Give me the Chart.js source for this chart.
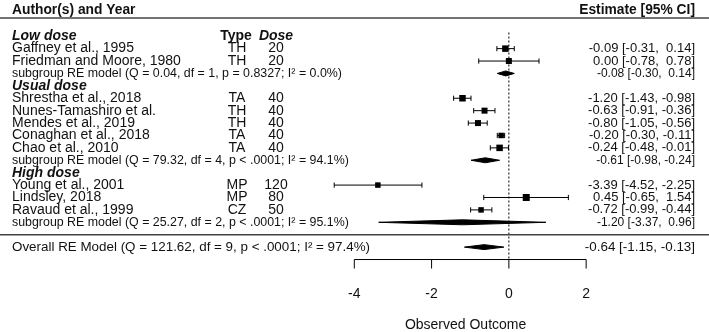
<!DOCTYPE html>
<html>
<head>
<meta charset="utf-8">
<script src="https://cdn.jsdelivr.net/npm/chart.js@4.4.1/dist/chart.umd.min.js"></script>
<style>
  html, body { margin: 0; padding: 0; background: #fff; }
  #wrap { width: 709px; height: 332px; position: relative; }
</style>
</head>
<body>
<div id="wrap"><canvas id="forestChart"></canvas></div>
<script>
// studies, top to bottom
const studies = ['Gaffney et al., 1995', 'Friedman and Moore, 1980', 'Shrestha et al., 2018',
  'Nunes-Tamashiro et al.', 'Mendes et al., 2019', 'Conaghan et al., 2018', 'Chao et al., 2010',
  'Young et al., 2001', 'Lindsley, 2018', 'Ravaud et al., 1999'];
const studyRows = [1, 2, 5, 6, 7, 8, 9, 12, 13, 14];
const types = ['TH', 'TH', 'TA', 'TH', 'TH', 'TA', 'TA', 'MP', 'MP', 'CZ'];
const doses = [20, 20, 40, 40, 40, 40, 40, 120, 80, 50];
const estimate = [-0.09, 0.00, -1.20, -0.63, -0.80, -0.20, -0.24, -3.39, 0.45, -0.72];
const lower = [-0.31, -0.78, -1.43, -0.91, -1.05, -0.30, -0.48, -4.52, -0.65, -0.99];
const upper = [0.14, 0.78, -0.98, -0.36, -0.56, -0.11, -0.01, -2.25, 1.54, -0.44];

// subgroups
const groups = ['Low dose', 'Usual dose', 'High dose'];
const groupRows = [0, 4, 11];
const subRows = [3, 10, 15];
const subLabels = [
  'subgroup RE model (Q = 0.04, df = 1, p = 0.8327; I\u00b2 = 0.0%)',
  'subgroup RE model (Q = 79.32, df = 4, p < .0001; I\u00b2 = 94.1%)',
  'subgroup RE model (Q = 25.27, df = 2, p < .0001; I\u00b2 = 95.1%)'];
const subEstimate = [-0.08, -0.61, -1.20];
const subLower = [-0.30, -0.98, -3.37];
const subUpper = [0.14, -0.24, 0.96];

// overall
const overallRow = 17;
const overallLabel = 'Overall RE Model (Q = 121.62, df = 9, p < .0001; I\u00b2 = 97.4%)';
const overallEstimate = -0.64;
const overallLower = -1.15;
const overallUpper = -0.13;

const xTicks = [-4, -2, 0, 2];

// layout
const FONT = '"Liberation Sans", Arial, sans-serif';
const rowTop = 32.2, rowStep = 12.79, H = 332;
const boxPx = [6.5, 6, 6.5, 6, 6, 5.5, 6.5, 5.5, 7, 5.5];
const diamondHalf = 0.2;

function fmt(v) { return (v < 0 ? '' : ' ') + v.toFixed(2); }
function ciText(e, l, u) { return e.toFixed(2) + ' [' + fmt(l) + ', ' + fmt(u) + ']'; }

function diamond(e, l, u, r) {
  return {
    data: [{x: l, y: r}, {x: e, y: r - diamondHalf}, {x: u, y: r}, {x: e, y: r + diamondHalf}, {x: l, y: r}],
    borderColor: '#000', backgroundColor: '#000', borderWidth: 1, pointRadius: 0, fill: 'shape'
  };
}

const datasets = [];
// squares
datasets.push({
  data: estimate.map((e, i) => ({x: e, y: studyRows[i]})),
  showLine: false, pointStyle: 'rect', pointRadius: boxPx.map(s => s / Math.SQRT2),
  backgroundColor: '#000', borderWidth: 0
});
// whisker caps
datasets.push({
  data: lower.map((l, i) => ({x: l, y: studyRows[i]})).concat(upper.map((u, i) => ({x: u, y: studyRows[i]}))),
  showLine: false, pointStyle: 'line', rotation: 90, pointRadius: 2.6,
  borderColor: '#000', borderWidth: 1
});
// whiskers
studies.forEach((s, i) => {
  datasets.push({
    data: [{x: lower[i], y: studyRows[i]}, {x: upper[i], y: studyRows[i]}],
    borderColor: '#000', borderWidth: 1, pointRadius: 0
  });
});
// summary diamonds
subEstimate.forEach((e, i) => datasets.push(diamond(e, subLower[i], subUpper[i], subRows[i])));
datasets.push(diamond(overallEstimate, overallLower, overallUpper, overallRow));
// reference line at 0
datasets.push({
  data: [{x: 0, y: -0.3}, {x: 0, y: 18}],
  borderColor: '#000', borderWidth: 1, borderDash: [2, 2], pointRadius: 0
});

const textPlugin = {
  id: 'forestText',
  afterDraw(chart) {
    const ctx = chart.ctx;
    const xs = chart.scales.x, ys = chart.scales.y;
    const yr = r => ys.getPixelForValue(r);
    const W = chart.width;
    ctx.save();
    ctx.fillStyle = '#111';
    ctx.strokeStyle = '#444';
    ctx.textBaseline = 'middle';

    function txt(s, x, y, font, align) {
      ctx.font = font;
      ctx.textAlign = align || 'left';
      ctx.fillText(s, x, y);
    }

    // header
    txt('Author(s) and Year', 12, 10, 'bold 13.8px ' + FONT);
    txt('Estimate [95% CI]', 695, 10, 'bold 13.8px ' + FONT, 'right');
    ctx.lineWidth = 1.6;
    ctx.beginPath(); ctx.moveTo(0, 18); ctx.lineTo(W, 18); ctx.stroke();
    txt('Type', 236, yr(0), 'bold 14px ' + FONT, 'center');
    txt('Dose', 276, yr(0), 'bold italic 14px ' + FONT, 'center');

    groups.forEach((g, i) => txt(g, 12, yr(groupRows[i]), 'bold italic 14px ' + FONT));
    studies.forEach((s, i) => {
      const y = yr(studyRows[i]);
      txt(s, 12, y, '14px ' + FONT);
      txt(types[i], 237, y, '14px ' + FONT, 'center');
      txt(String(doses[i]), 276, y, '14px ' + FONT, 'center');
      txt(ciText(estimate[i], lower[i], upper[i]), 695, y, '13px ' + FONT, 'right');
    });
    subLabels.forEach((s, i) => {
      const y = yr(subRows[i]);
      txt(s, 12, y, '12.4px ' + FONT);
      txt(ciText(subEstimate[i], subLower[i], subUpper[i]), 695, y, '12px ' + FONT, 'right');
    });

    // separator and overall
    ctx.beginPath(); ctx.moveTo(0, yr(16)); ctx.lineTo(W, yr(16)); ctx.stroke();
    txt(overallLabel, 12, yr(overallRow), '13.4px ' + FONT);
    txt(ciText(overallEstimate, overallLower, overallUpper), 695, yr(overallRow), '13.4px ' + FONT, 'right');

    // x axis
    const ay = yr(18);
    ctx.strokeStyle = '#000';
    ctx.lineWidth = 1;
    ctx.beginPath();
    ctx.moveTo(xs.getPixelForValue(xTicks[0]), ay);
    ctx.lineTo(xs.getPixelForValue(xTicks[xTicks.length - 1]), ay);
    xTicks.forEach(t => {
      const px = xs.getPixelForValue(t);
      ctx.moveTo(px, ay); ctx.lineTo(px, ay + 9);
    });
    ctx.stroke();
    xTicks.forEach(t => txt(String(t), xs.getPixelForValue(t), 294, '14px ' + FONT, 'center'));
    txt('Observed Outcome', xs.getPixelForValue(-1.12), 325, '14px ' + FONT, 'center');
    ctx.restore();
  }
};

new Chart(document.getElementById('forestChart'), {
  type: 'line',
  data: { datasets: datasets },
  options: {
    responsive: true,
    maintainAspectRatio: false,
    animation: false,
    events: [],
    layout: { padding: 0 },
    plugins: { legend: { display: false }, tooltip: { enabled: false } },
    scales: {
      x: { type: 'linear', min: -13.04, max: 5.05, display: false },
      y: { type: 'linear', reverse: true, min: -rowTop / rowStep, max: (H - rowTop) / rowStep, display: false }
    }
  },
  plugins: [textPlugin]
});
</script>
</body>
</html>
